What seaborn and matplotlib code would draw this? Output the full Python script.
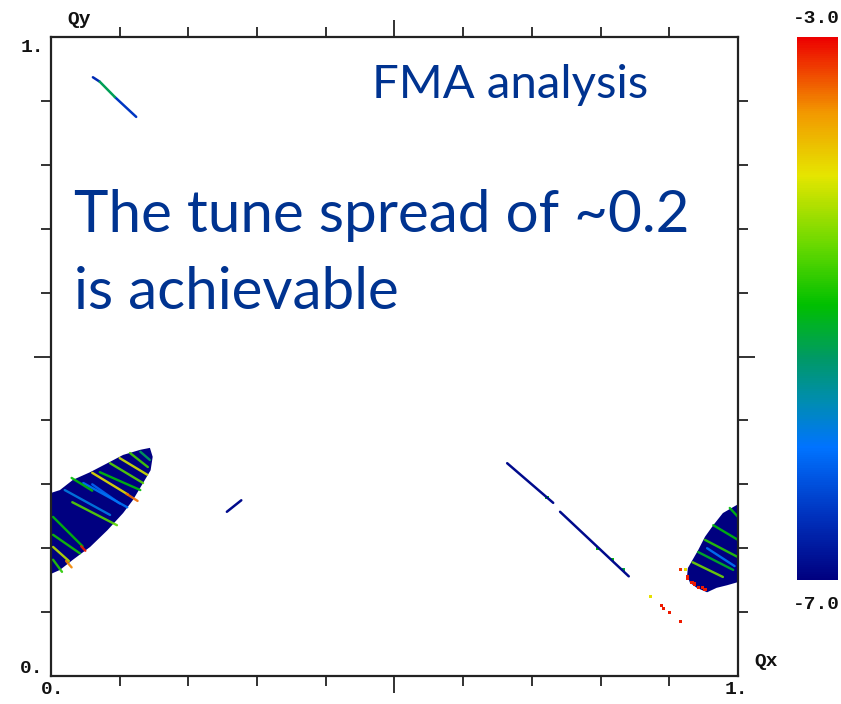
import numpy as np
import pandas as pd
import matplotlib
matplotlib.use("Agg")
import matplotlib.pyplot as plt
import seaborn as sns
from matplotlib.colors import LinearSegmentedColormap, Normalize
from matplotlib.cm import ScalarMappable
from matplotlib.ticker import FixedLocator

# diffusion index colour range
vmin, vmax = -7.0, -3.0

# core of the footprint near the left edge (Qx, Qy outline)
left_blob_x = [-0.01, 0.013, 0.032, 0.057, 0.082, 0.105, 0.130, 0.144, 0.148, 0.145,
               0.134, 0.119, 0.105, 0.082, 0.057, 0.032, 0.013, -0.01]
left_blob_y = [0.283, 0.291, 0.307, 0.319, 0.333, 0.346, 0.354, 0.357, 0.343, 0.322,
               0.302, 0.275, 0.255, 0.228, 0.202, 0.182, 0.166, 0.155]

# wrapped part of the footprint at the right edge
right_blob_x = [1.01, 0.978, 0.964, 0.952, 0.942, 0.934, 0.927, 0.926, 0.930, 0.940,
                0.955, 0.969, 0.984, 1.01]
right_blob_y = [0.275, 0.255, 0.236, 0.218, 0.197, 0.182, 0.169, 0.158, 0.146, 0.138,
                0.131, 0.138, 0.142, 0.150]

# resonance stripes inside the footprints
stripe_x0 = [0.060, 0.110, 0.071, 0.086, 0.100, 0.115, 0.130, 0.047, 0.031, 0.020,
             0.003, 0.044, 0.003, 0.003, 0.022, 0.003, 0.030, 0.060,
             0.988, 0.964, 0.952, 0.942, 0.934, 0.955]
stripe_y0 = [0.318, 0.285, 0.319, 0.333, 0.341, 0.349, 0.351, 0.302, 0.272, 0.291,
             0.249, 0.203, 0.221, 0.202, 0.180, 0.182, 0.310, 0.300,
             0.263, 0.236, 0.213, 0.194, 0.178, 0.200]
stripe_x1 = [0.112, 0.126, 0.130, 0.134, 0.140, 0.141, 0.144, 0.111, 0.096, 0.086,
             0.046, 0.050, 0.042, 0.026, 0.030, 0.016, 0.060, 0.100,
             1.000, 1.000, 1.000, 0.993, 0.978, 0.995]
stripe_y1 = [0.284, 0.274, 0.291, 0.302, 0.315, 0.327, 0.338, 0.264, 0.236, 0.252,
             0.203, 0.196, 0.192, 0.180, 0.170, 0.163, 0.290, 0.270,
             0.249, 0.213, 0.186, 0.166, 0.155, 0.172]
stripe_val = [-4.0, -3.4, -5.0, -4.6, -4.1, -4.7, -5.3, -6.0, -4.6, -5.9,
              -5.0, -3.1, -4.9, -4.2, -3.5, -4.8, -5.0, -6.1,
              -5.0, -5.0, -4.8, -5.1, -4.5, -6.0]

# thin orbit lines (resonance branches)
line_x0 = [0.061, 0.071, 0.093, 0.256, 0.664, 0.741]
line_y0 = [0.937, 0.930, 0.906, 0.257, 0.333, 0.257]
line_x1 = [0.071, 0.093, 0.124, 0.277, 0.731, 0.841]
line_y1 = [0.930, 0.906, 0.875, 0.275, 0.271, 0.156]
line_val = [-6.6, -5.3, -6.5, -6.9, -6.9, -6.9]

# isolated / chaotic particles
dot_x = [0.722, 0.796, 0.817, 0.833, 0.873, 0.888, 0.892, 0.900, 0.916,
         0.916, 0.923, 0.926, 0.927, 0.933, 0.937, 0.942, 0.948, 0.952]
dot_y = [0.279, 0.200, 0.182, 0.166, 0.125, 0.111, 0.105, 0.100, 0.085,
         0.166, 0.167, 0.155, 0.153, 0.147, 0.144, 0.139, 0.138, 0.135]
dot_val = [-5.0, -5.0, -5.0, -5.2, -4.0, -3.1, -3.1, -3.1, -3.1,
           -3.2, -4.0, -3.1, -3.1, -3.1, -3.1, -3.1, -3.1, -3.1]

cmap = LinearSegmentedColormap.from_list("fma", [
    (0.0, (0.0, 0.0, 0.5)), (0.12, (0.0, 0.2, 0.75)), (0.243, (0.0, 0.45, 1.0)),
    (0.326, (0.0, 0.55, 0.7)), (0.408, (0.0, 0.6, 0.4)), (0.507, (0.0, 0.75, 0.0)),
    (0.614, (0.4, 0.85, 0.0)), (0.746, (0.9, 0.9, 0.0)), (0.861, (0.95, 0.6, 0.0)),
    (1.0, (0.93, 0.0, 0.0))])
norm = Normalize(vmin, vmax)


def long_segments(x0, y0, x1, y1, val):
    rows = []
    for i in range(len(x0)):
        rows.append({"seg": i, "x": x0[i], "y": y0[i], "val": val[i]})
        rows.append({"seg": i, "x": x1[i], "y": y1[i], "val": val[i]})
    return pd.DataFrame(rows)


sns.set_style("white")
plt.rcParams["font.family"] = ["Lato", "DejaVu Sans"]

fig = plt.figure(figsize=(8.41, 7.04), dpi=100)
ax = fig.add_axes([51 / 841, 28 / 704, 687 / 841, 639 / 704])
ax.set_xlim(0, 1)
ax.set_ylim(0, 1)

navy = cmap(norm(-7.0))
ax.fill(left_blob_x, left_blob_y, color=navy, lw=0)
ax.fill(right_blob_x, right_blob_y, color=navy, lw=0)

stripes = long_segments(stripe_x0, stripe_y0, stripe_x1, stripe_y1, stripe_val)
sns.lineplot(data=stripes, x="x", y="y", hue="val", units="seg", estimator=None,
             sort=False, palette=cmap, hue_norm=norm, legend=False, lw=1.7,
             alpha=0.9, ax=ax)
lines = long_segments(line_x0, line_y0, line_x1, line_y1, line_val)
sns.lineplot(data=lines, x="x", y="y", hue="val", units="seg", estimator=None,
             sort=False, palette=cmap, hue_norm=norm, legend=False, lw=1.8,
             solid_capstyle="round", ax=ax)
dots = pd.DataFrame({"x": dot_x, "y": dot_y, "val": dot_val})
sns.scatterplot(data=dots, x="x", y="y", hue="val", palette=cmap, hue_norm=norm,
                legend=False, s=5, marker="s", linewidth=0, ax=ax)

ax.set_xlabel("")
ax.set_ylabel("")
for sp in ax.spines.values():
    sp.set_visible(True)
    sp.set_color("#222222")
    sp.set_linewidth(1.6)
for axis in (ax.xaxis, ax.yaxis):
    axis.set_major_locator(FixedLocator([0.5]))
    axis.set_minor_locator(FixedLocator([0.1, 0.2, 0.3, 0.4, 0.6, 0.7, 0.8, 0.9]))
ax.tick_params(which="both", direction="out", top=True, right=True, bottom=True, left=True,
               labelbottom=False, labelleft=False, width=1.3, color="#222222")
ax.tick_params(which="major", length=12.5)
ax.tick_params(which="minor", length=7)

mono = dict(family="Liberation Mono", weight="bold", fontsize=14, color="#111111")
fig.text(0.038, 0.932, "1.", ha="center", va="center", **mono)
fig.text(0.038, 0.051, "0.", ha="center", va="center", **mono)
fig.text(0.062, 0.020, "0.", ha="center", va="center", **mono)
fig.text(0.876, 0.020, "1.", ha="center", va="center", **mono)
fig.text(0.094, 0.972, "Qy", ha="center", va="center", **mono)
fig.text(0.911, 0.060, "Qx", ha="center", va="center", **mono)

blue = "#003390"
fig.text(372 / 841, 1 - 98 / 704, "FMA analysis", color=blue, fontsize=34, va="baseline")
fig.text(74 / 841, 1 - 232 / 704, "The tune spread of ~0.2", color=blue, fontsize=42,
         va="baseline")
fig.text(74 / 841, 1 - 309 / 704, "is achievable", color=blue, fontsize=42, va="baseline")

cax = fig.add_axes([797 / 841, 124 / 704, 41 / 841, 543 / 704])
cb = fig.colorbar(ScalarMappable(norm=norm, cmap=cmap), cax=cax)
cb.outline.set_visible(False)
cax.set_yticks([])
fig.text(0.971, 0.974, "-3.0", ha="center", va="center", **mono)
fig.text(0.971, 0.141, "-7.0", ha="center", va="center", **mono)

fig.savefig("out.png", dpi=100)
